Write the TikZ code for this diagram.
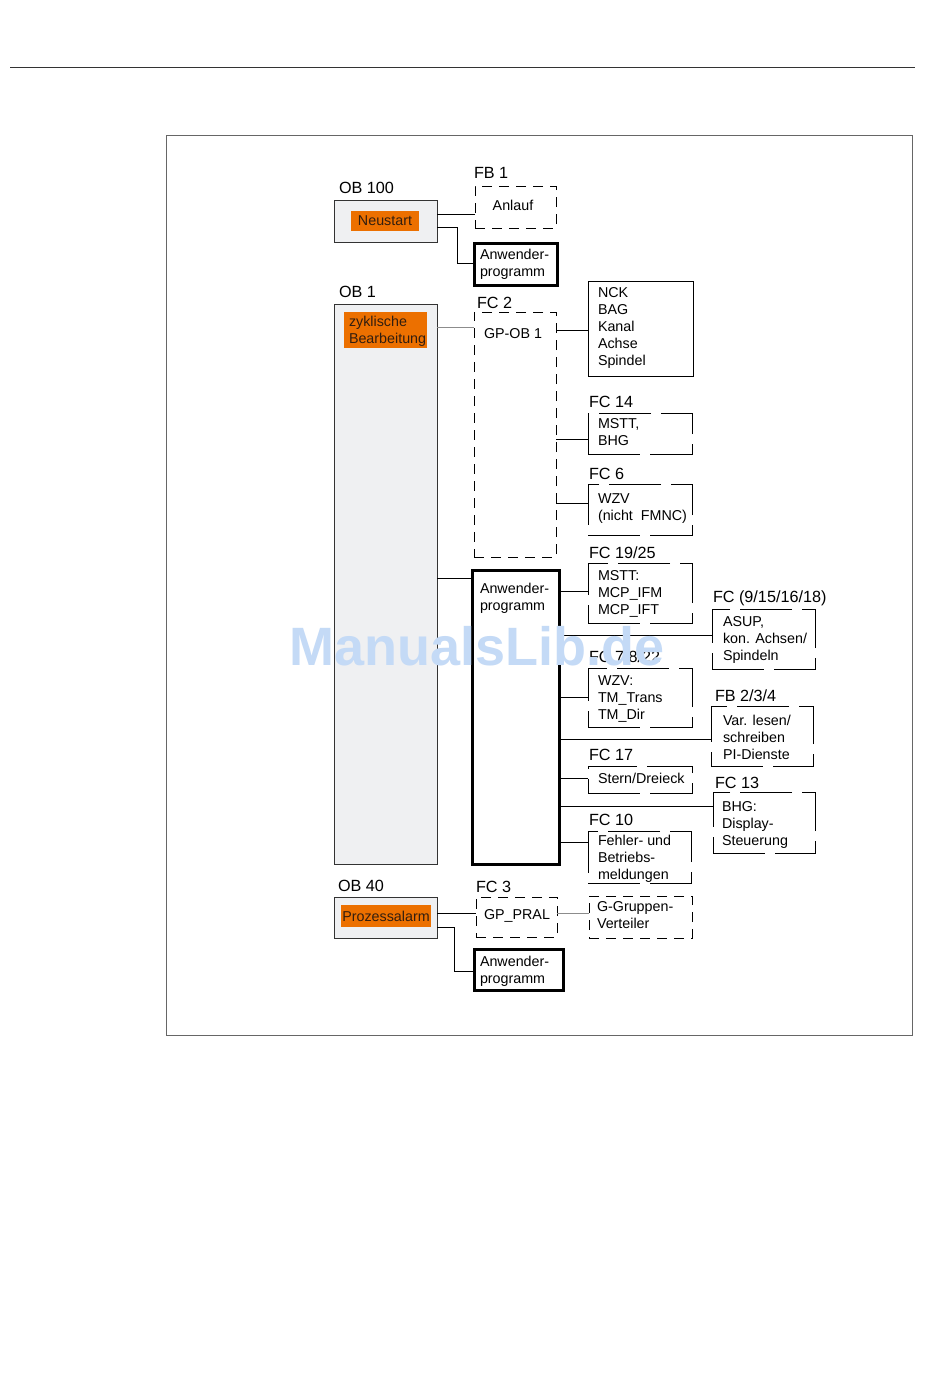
\documentclass[tikz,border=0pt]{standalone}
\usepackage{fontspec}
\setmainfont{Liberation Sans}
\usetikzlibrary{calc}
\definecolor{obfill}{RGB}{239,240,242}
\definecolor{siorange}{RGB}{236,112,0}
\definecolor{wmblue}{RGB}{196,218,246}
\definecolor{ortext}{RGB}{50,30,15}
\begin{document}
\begin{tikzpicture}[x=0.5pt,y=-0.5pt,
  every node/.style={inner sep=0pt, outer sep=0pt},
  lab/.style={font=\fontsize{8.1}{9.6}\selectfont, anchor=base west},
  txt/.style={font=\fontsize{7.15}{8.5}\selectfont, anchor=base west, align=left},
  obbox/.style={draw=black!80, line width=0.5pt, fill=obfill, anchor=north west},
  orbox/.style={fill=siorange, anchor=north west},
  dbox/.style={draw, line width=0.5pt, dash pattern=on 5pt off 3.5pt, anchor=north west},
  bbox/.style={draw, line width=0.5pt, dash pattern=on 26pt off 5pt, anchor=north west},
  sbox/.style={draw, line width=0.5pt, anchor=north west},
  tbox/.style={draw, line width=1.5pt, anchor=north west},
  conn/.style={line width=0.5pt},
  gconn/.style={line width=0.5pt, draw=black!45},
]
\fill[white] (0,0) rectangle (950,1398);
\path[use as bounding box] (0,0) rectangle (950,1398);
\draw[black!80, line width=0.5pt] (10,67) -- (915,67);
\draw[black!60, line width=0.5pt] (166,135) rectangle (912,1035);

% OB boxes
\node[obbox, minimum width=51.5pt, minimum height=21pt] (ob100) at (334,200) {};
\node[orbox, minimum width=34pt, minimum height=10pt] (neu) at (351,211) {};
\node[txt, anchor=base, text=ortext] (neut) at (385,225) {Neustart};
\node[obbox, minimum width=51.5pt, minimum height=280pt] (ob1) at (334,304) {};
\node[orbox, minimum width=41.5pt, minimum height=18pt] (zyk) at (344,312) {};
\node[txt, text=ortext] (zykt) at (349,343) {zyklische\\Bearbeitung};
\node[obbox, minimum width=51.5pt, minimum height=20.5pt] (ob40) at (334,897) {};
\node[orbox, minimum width=45pt, minimum height=11pt] (proz) at (341,905) {};
\node[txt, anchor=base, text=ortext] (prozt) at (386,921) {Prozessalarm};

% labels
\node[lab] (l1) at (339,193) {OB 100};
\node[lab] (l2) at (474,178) {FB 1};
\node[lab] (l3) at (339,297) {OB 1};
\node[lab] (l4) at (477,308) {FC 2};
\node[lab] (l5) at (589,407) {FC 14};
\node[lab] (l6) at (589,479) {FC 6};
\node[lab] (l7) at (589,558) {FC 19/25};
\node[lab] (l8) at (713,602) {FC (9/15/16/18)};
\node[lab] (l9) at (589,662) {FC 7/8/22};
\node[lab] (l10) at (715,701) {FB 2/3/4};
\node[lab] (l11) at (589,760) {FC 17};
\node[lab] (l12) at (715,788) {FC 13};
\node[lab] (l13) at (589,825) {FC 10};
\node[lab] (l14) at (338,891) {OB 40};
\node[lab] (l15) at (476,892) {FC 3};

% function boxes (multi-line texts are placed by the baseline of their last line)
\node[dbox, minimum width=40.5pt, minimum height=21pt] (fb1) at (475,186) {};
\node[txt, anchor=base] (fb1t) at (513,210) {Anlauf};
\node[tbox, minimum width=41.5pt, minimum height=21pt] (anw1) at (474,243) {};
\node[txt] (anw1t) at (480,276) {Anwender-\\programm};
\node[dbox, minimum width=41pt, minimum height=122.5pt] (fc2) at (474,312) {};
\node[txt] (fc2t) at (484,338) {GP-OB 1};
\node[sbox, minimum width=52.5pt, minimum height=47.5pt] (nck) at (588,281) {};
\node[txt] (nckt) at (598,365) {NCK\\BAG\\Kanal\\Achse\\Spindel};
\node[bbox, minimum width=52pt, minimum height=20.5pt] (fc14) at (588,413) {};
\node[txt] (fc14t) at (598,445) {MSTT,\\BHG};
\node[bbox, minimum width=52pt, minimum height=25.5pt] (fc6) at (588,484) {};
\node[txt] (fc6t) at (598,520) {WZV\\(nicht\ \ FMNC)};
\node[tbox, minimum width=43.5pt, minimum height=147pt] (anw2) at (472,570) {};
\node[txt] (anw2t) at (480,610) {Anwender-\\programm};
\node[bbox, minimum width=52pt, minimum height=30pt] (fc1925) at (588,563) {};
\node[txt] (fc1925t) at (598,614) {MSTT:\\MCP\_IFM\\MCP\_IFT};
\node[bbox, minimum width=51.5pt, minimum height=30pt] (fc9) at (712,609) {};
\node[txt] (fc9t) at (723,660) {ASUP,\\kon. Achsen/\\Spindeln};
\node[bbox, minimum width=52pt, minimum height=29.5pt] (fc78) at (588,668) {};
\node[txt] (fc78t) at (598,719) {WZV:\\TM\_Trans\\TM\_Dir};
\node[bbox, minimum width=51pt, minimum height=30pt] (fb234) at (711,706) {};
\node[txt] (fb234t) at (723,759) {Var. lesen/\\schreiben\\PI-Dienste};
\node[bbox, minimum width=52pt, minimum height=13.5pt] (fc17) at (588,766) {};
\node[txt] (fc17t) at (598,783) {Stern/Dreieck};
\node[bbox, minimum width=51pt, minimum height=30.5pt] (fc13) at (713,792) {};
\node[txt] (fc13t) at (722,845) {BHG:\\Display-\\Steuerung};
\node[bbox, minimum width=51.5pt, minimum height=26pt] (fc10) at (588,831) {};
\node[txt] (fc10t) at (598,879) {Fehler- und\\Betriebs-\\meldungen};
\node[dbox, minimum width=40.5pt, minimum height=20pt] (fc3) at (476,897) {};
\node[txt] (fc3t) at (484,919) {GP\_PRAL};
\node[tbox, minimum width=44.5pt, minimum height=20.5pt] (anw3) at (474,949) {};
\node[txt] (anw3t) at (480,983) {Anwender-\\programm};
\node[dbox, minimum width=51.5pt, minimum height=21pt] (ggv) at (589,896) {};
\node[txt] (ggvt) at (597,928) {G-Gruppen-\\Verteiler};

% connectors
\draw[conn] (ob100.east |- 0,214) -- (fb1.west |- 0,214);
\draw[conn] (ob100.east |- 0,227) -- (457,227) |- (anw1.west |- 0,263);
\draw[gconn] (ob1.east |- 0,327) -- (fc2.west |- 0,327);
\draw[conn] (fc2.east |- 0,330) -- (nck.west |- 0,330);
\draw[conn] (fc2.east |- 0,439) -- (fc14.west |- 0,439);
\draw[conn] (fc2.east |- 0,503) -- (fc6.west |- 0,503);
\draw[conn] (ob1.east |- 0,578) -- (anw2.west |- 0,578);
\draw[conn] (anw2.east |- 0,591) -- (fc1925.west |- 0,591);
\draw[conn] (anw2.east |- 0,635) -- (fc9.west |- 0,635);
\draw[conn] (anw2.east |- 0,697) -- (fc78.west |- 0,697);
\draw[conn] (anw2.east |- 0,739) -- (fb234.west |- 0,739);
\draw[conn] (anw2.east |- 0,778) -- (fc17.west |- 0,778);
\draw[conn] (anw2.east |- 0,806) -- (fc13.west |- 0,806);
\draw[conn] (anw2.east |- 0,842) -- (fc10.west |- 0,842);
\draw[conn] (ob40.east |- 0,913) -- (fc3.west |- 0,913);
\draw[conn] (ob40.east |- 0,927) -- (454,927) |- (anw3.west |- 0,971);
\draw[gconn] (fc3.east |- 0,913) -- (ggv.west |- 0,913);

% watermark
\node[font=\fontsize{27}{27}\selectfont\bfseries, text=wmblue, anchor=center] (wm) at (477,646) {ManualsLib.de};
\end{tikzpicture}
\end{document}
